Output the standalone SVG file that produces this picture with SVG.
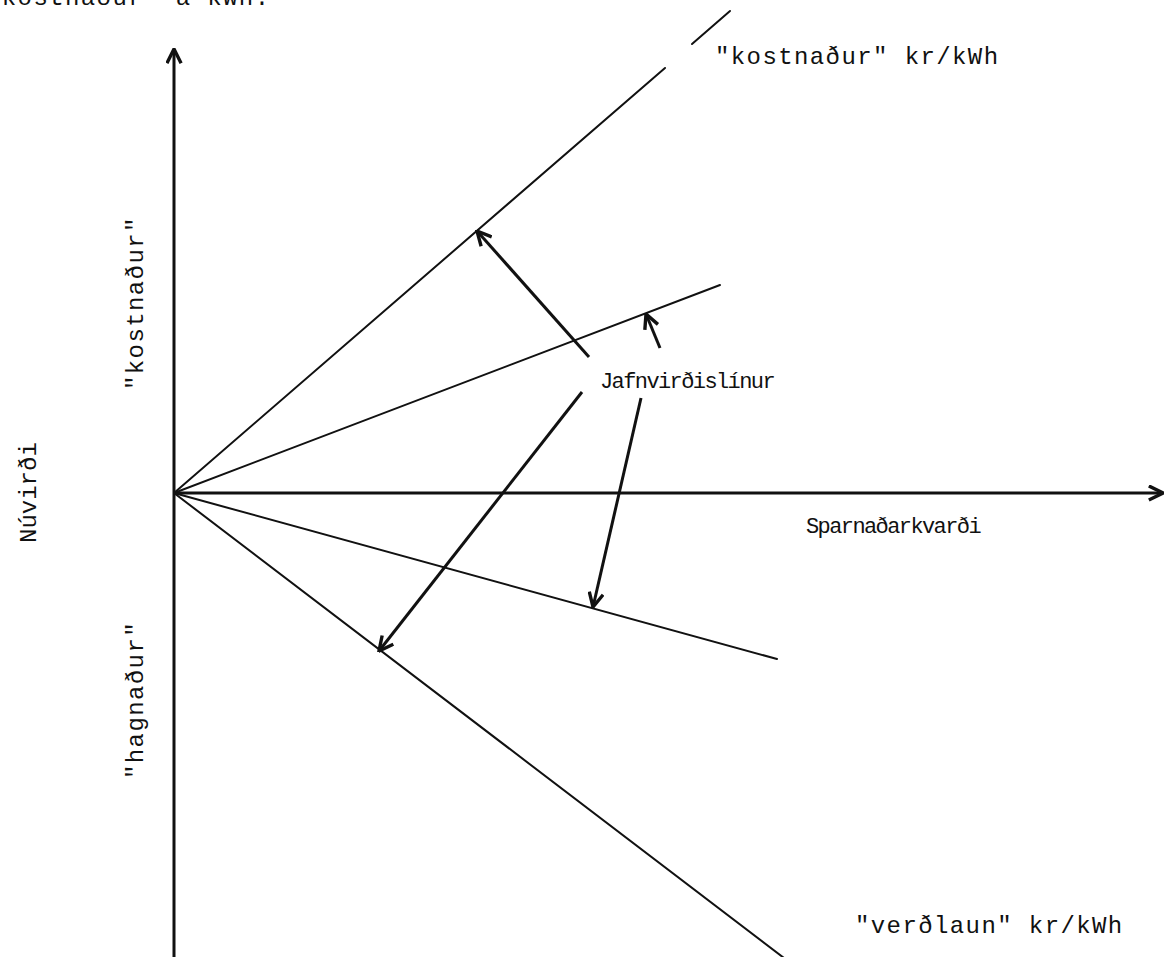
<svg xmlns="http://www.w3.org/2000/svg" width="1173" height="957" viewBox="0 0 1173 957">
<style>
text{font-family:"Liberation Mono","DejaVu Sans Mono",monospace;font-size:24px;letter-spacing:1.4px;fill:#111}
text.sm{font-size:22px;letter-spacing:-1.6px}
text.nv{font-size:24px;letter-spacing:0px}
.ray{stroke:#111;stroke-width:2;fill:none;stroke-linecap:round}
.axis{stroke:#111;stroke-width:3;fill:none}
.arr{stroke:#111;stroke-width:3;fill:none;marker-end:url(#ah)}
</style>
<defs>
<marker id="ah" viewBox="0 0 12 12" refX="11" refY="6" markerWidth="17" markerHeight="17" markerUnits="userSpaceOnUse" orient="auto">
<path d="M1,1 L11,6 L1,11" fill="none" stroke="#111" stroke-width="2.4" stroke-linejoin="miter"/>
</marker>
</defs>
<g id="top-label"><text x="-14" y="5">"kostnaður" á kWh.</text></g>
<g id="axes">
<line class="axis" x1="174" y1="957" x2="174" y2="49" marker-end="url(#ah)"/>
<line class="axis" x1="174" y1="493" x2="1163" y2="493" marker-end="url(#ah)"/>
</g>
<g id="rays">
<line class="ray" x1="174" y1="493" x2="665" y2="68"/>
<line class="ray" x1="692" y1="44" x2="730" y2="11"/>
<line class="ray" x1="174" y1="493" x2="720" y2="285"/>
<line class="ray" x1="174" y1="493" x2="777" y2="659"/>
<line class="ray" x1="174" y1="493" x2="784" y2="958"/>
</g>
<g id="connectors">
<line class="arr" x1="589" y1="357" x2="477" y2="231"/>
<line class="arr" x1="660" y1="348" x2="646" y2="314"/>
<line class="arr" x1="641" y1="398" x2="593" y2="607"/>
<line class="arr" x1="582" y1="392" x2="379" y2="651"/>
</g>
<g id="labels">
<text x="715" y="64">"kostnaður" kr/kWh</text>
<text x="855" y="933">"verðlaun" kr/kWh</text>
<text class="sm" x="806" y="533">Sparnaðarkvarði</text>
<text class="sm" x="600" y="388">Jafnvirðislínur</text>
<text class="nv" transform="translate(36,543) rotate(-90)">Núvirði</text>
<text transform="translate(143,390) rotate(-90)">"kostnaður"</text>
<text transform="translate(143,779) rotate(-90)">"hagnaður"</text>
</g>
</svg>
